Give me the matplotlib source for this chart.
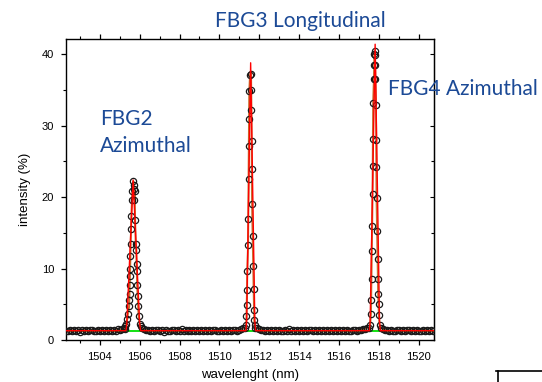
"""FBG reflection peaks: measured spectrum with gaussian fit"""

import numpy as np
import matplotlib.pyplot as plt
from matplotlib.lines import Line2D
from matplotlib.ticker import MultipleLocator

plt.rcParams['font.family'] = ['Liberation Sans', 'DejaVu Sans']

# baseline readings, 0.1 nm apart, each segment starts at the given wavelength
base_a_start = 1502.3
base_a = [1.32, 1.22, 1.40, 1.27, 1.44, 1.24, 1.36, 1.18, 1.38, 1.30, 1.46, 1.23, 1.33, 1.41, 1.20,
          1.30, 1.39, 1.26, 1.45, 1.22, 1.35, 1.27, 1.43, 1.25, 1.37, 1.32, 1.47, 1.38, 1.54, 1.66]
base_b_start = 1506.1
base_b = [1.72, 1.56, 1.46, 1.38, 1.28, 1.37, 1.21, 1.33, 1.43, 1.25, 1.36, 1.18, 1.41, 1.30, 1.24,
          1.45, 1.34, 1.22, 1.39, 1.29, 1.47, 1.25, 1.33, 1.20, 1.40, 1.30, 1.43, 1.24, 1.36, 1.27,
          1.46, 1.22, 1.37, 1.31, 1.42, 1.23, 1.34, 1.44, 1.26, 1.31, 1.39, 1.20, 1.36, 1.29, 1.45,
          1.24, 1.33, 1.40, 1.27, 1.37, 1.49, 1.63]
base_c_start = 1511.9
base_c = [1.68, 1.51, 1.41, 1.33, 1.24, 1.39, 1.29, 1.45, 1.21, 1.36, 1.27, 1.42, 1.31, 1.19, 1.38,
          1.30, 1.47, 1.25, 1.34, 1.22, 1.41, 1.29, 1.37, 1.20, 1.44, 1.27, 1.33, 1.40, 1.24, 1.36,
          1.30, 1.46, 1.22, 1.38, 1.29, 1.34, 1.25, 1.43, 1.23, 1.37, 1.31, 1.41, 1.20, 1.36, 1.27,
          1.45, 1.30, 1.24, 1.40, 1.33, 1.29, 1.37, 1.43, 1.48, 1.56, 1.71]
base_d_start = 1518.1
base_d = [1.70, 1.53, 1.43, 1.35, 1.25, 1.38, 1.30, 1.21, 1.42, 1.33, 1.27, 1.40, 1.23, 1.34, 1.44,
          1.29, 1.37, 1.24, 1.41, 1.31, 1.21, 1.38, 1.29, 1.46, 1.25, 1.35, 1.30]

# peak readings
fbg2_wl = [1505.25, 1505.28, 1505.33, 1505.38, 1505.41, 1505.47, 1505.48, 1505.49, 1505.50, 1505.51,
           1505.52, 1505.53, 1505.55, 1505.57, 1505.58, 1505.61, 1505.63, 1505.68, 1505.71, 1505.72,
           1505.73, 1505.75, 1505.77, 1505.80, 1505.83, 1505.84, 1505.86, 1505.87, 1505.90, 1505.92,
           1505.95, 1506.00, 1506.05]
fbg2_int = [1.6, 1.9, 2.3, 3.0, 3.7, 4.7, 5.6, 6.5, 7.7, 8.9,
            10.0, 11.7, 13.5, 15.6, 17.3, 19.6, 20.8, 22.2, 21.7, 21.2,
            19.6, 20.8, 16.8, 13.5, 12.6, 10.7, 9.6, 7.7, 6.1, 4.7,
            3.3, 2.3, 1.9]

fbg3_wl = [1511.29, 1511.34, 1511.36, 1511.37, 1511.39, 1511.40, 1511.44, 1511.45, 1511.47, 1511.48,
           1511.49, 1511.50, 1511.54, 1511.59, 1511.60, 1511.61, 1511.62, 1511.63, 1511.64, 1511.67,
           1511.70, 1511.72, 1511.74, 1511.75, 1511.77, 1511.81]
fbg3_int = [1.7, 2.1, 3.3, 4.9, 7.0, 9.6, 13.3, 17.0, 22.6, 27.1,
            31.0, 34.8, 37.1, 37.3, 35.0, 32.2, 27.8, 24.0, 19.1, 14.5,
            10.3, 7.2, 4.2, 2.8, 2.1, 1.7]

fbg4_wl = [1517.53, 1517.57, 1517.61, 1517.62, 1517.64, 1517.66, 1517.67, 1517.69, 1517.70, 1517.71,
           1517.72, 1517.76, 1517.77, 1517.78, 1517.80, 1517.81, 1517.82, 1517.83, 1517.86, 1517.87,
           1517.88, 1517.89, 1517.92, 1517.94, 1517.96, 1517.97, 1517.99, 1518.01, 1518.04]
fbg4_int = [1.7, 2.1, 3.7, 5.6, 8.5, 12.4, 15.9, 20.5, 24.4, 28.2,
            33.2, 36.6, 38.5, 40.1, 40.4, 39.9, 38.5, 36.6, 32.9, 28.0,
            24.2, 19.9, 15.3, 11.4, 8.5, 6.5, 5.0, 3.5, 2.1]

# fit curve vertices
fit_wl = [1502.3, 1505.31, 1505.35, 1505.67, 1506.00, 1506.05,
          1511.33, 1511.37, 1511.57, 1511.78, 1511.82,
          1517.53, 1517.57, 1517.82, 1518.04, 1518.08, 1520.75]
fit_int = [1.3, 1.3, 2.2, 22.4, 2.2, 1.3,
           1.3, 2.6, 38.8, 2.6, 1.3,
           1.3, 2.6, 41.4, 2.6, 1.3, 1.3]
baseline_wl = [1502.3, 1520.75]
baseline_int = [1.28, 1.28]


def seg(start, vals):
    return start + 0.1 * np.arange(len(vals))


wl = np.concatenate([seg(base_a_start, base_a), fbg2_wl, seg(base_b_start, base_b), fbg3_wl,
                     seg(base_c_start, base_c), fbg4_wl, seg(base_d_start, base_d)])
inten = np.concatenate([base_a, fbg2_int, base_b, fbg3_int, base_c, fbg4_int, base_d])

fig = plt.figure(figsize=(5.42, 3.82), dpi=100)
ax = fig.add_axes([66 / 542, 1 - 340 / 382, 367.5 / 542, 301.5 / 382])

ax.plot(baseline_wl, baseline_int, color='#00dd00', lw=1.3, zorder=1)
ax.plot(wl, inten, color='#c87030', lw=1.4, zorder=2)
ax.plot(wl, inten, ls='none', marker='o', ms=4.5, mfc='none', mec='#1a1a1a', mew=0.9, zorder=3)
ax.plot(fit_wl, fit_int, color='#ff0000', lw=1.0, zorder=4)

ax.set_xlim(1502.3, 1520.75)
ax.set_ylim(0, 42.2)
ax.xaxis.set_major_locator(MultipleLocator(2))
ax.xaxis.set_minor_locator(MultipleLocator(1))
ax.yaxis.set_major_locator(MultipleLocator(10))
ax.yaxis.set_minor_locator(MultipleLocator(5))

ax.tick_params(axis='x', which='both', direction='out', top=True, labelsize=8, pad=5)
ax.tick_params(axis='x', which='major', length=3.5, width=0.9)
ax.tick_params(axis='x', which='minor', length=2, width=0.8)
ax.tick_params(axis='y', which='both', direction='out', labelsize=8, pad=5)
ax.tick_params(axis='y', which='major', length=3.5, width=0.9)
ax.tick_params(axis='y', which='minor', length=2, width=0.8)
for s in ax.spines.values():
    s.set_linewidth(1.0)

# right side ticks point inwards
sec = ax.secondary_yaxis('right')
sec.yaxis.set_major_locator(MultipleLocator(10))
sec.yaxis.set_minor_locator(MultipleLocator(5))
sec.tick_params(which='both', direction='in', labelright=False)
sec.tick_params(which='major', length=3, width=0.8)
sec.tick_params(which='minor', length=2, width=0.8)

ax.set_xlabel('wavelenght (nm)', fontsize=9.5, labelpad=5)
ax.set_ylabel('intensity (%)', fontsize=9.5, labelpad=8)

blue = '#1c4a96'
fig.text(0.555, 1 - 26.7 / 382, 'FBG3 Longitudinal', color=blue, fontsize=15,
         family='Lato', ha='center', va='baseline')
fig.text(100 / 542, 1 - 125 / 382, 'FBG2', color=blue, fontsize=15, family='Lato', va='baseline')
fig.text(100 / 542, 1 - 151.7 / 382, 'Azimuthal', color=blue, fontsize=15, family='Lato',
         va='baseline')
fig.text(388 / 542, 1 - 95 / 382, 'FBG4 Azimuthal', color=blue, fontsize=15, family='Lato',
         va='baseline')

# small mark in the bottom right corner
y_mark = 1 - 371 / 382
fig.add_artist(Line2D([496 / 542, 1], [y_mark, y_mark], transform=fig.transFigure, color='k', lw=1.2))
fig.add_artist(Line2D([498 / 542, 498 / 542], [0, y_mark], transform=fig.transFigure, color='k', lw=1.2))

fig.savefig('out.png', dpi=100)
